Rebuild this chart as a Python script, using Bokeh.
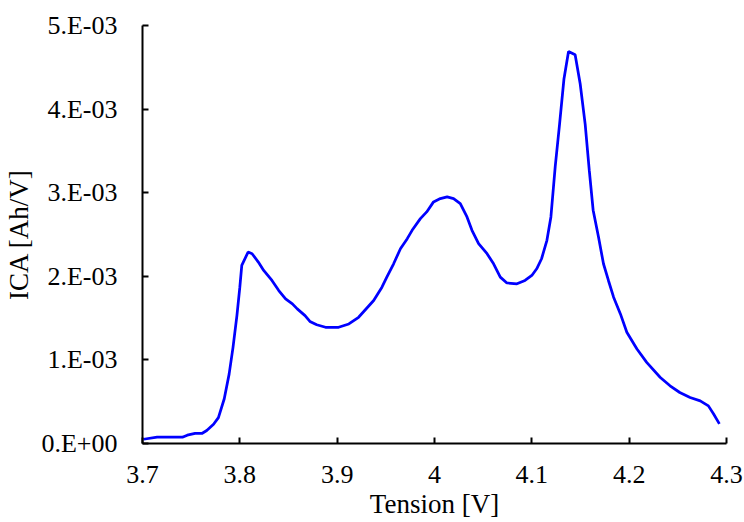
from bokeh.plotting import figure
from bokeh.models import Range1d, FixedTicker
from bokeh.embed import file_html
from bokeh.resources import INLINE

# Tension [V]
voltage = [3.701, 3.715, 3.741, 3.746, 3.754, 3.761, 3.766, 3.773, 3.778, 3.784,
           3.789, 3.793, 3.797, 3.800, 3.802, 3.8085, 3.8126, 3.819, 3.8245, 3.833,
           3.840, 3.847, 3.854, 3.859, 3.867, 3.872, 3.879, 3.888, 3.9015, 3.912,
           3.922, 3.9375, 3.946, 3.951, 3.958, 3.965, 3.972, 3.977, 3.9855, 3.992,
           3.999, 4.006, 4.013, 4.0196, 4.0265, 4.0334, 4.0385, 4.0453, 4.054, 4.0607,
           4.0676, 4.0744, 4.0847, 4.093, 4.100, 4.105, 4.110, 4.1155, 4.1196, 4.124,
           4.1285, 4.133, 4.1377, 4.1445, 4.1497, 4.1548, 4.159, 4.163, 4.1685, 4.1736,
           4.1787, 4.184, 4.191, 4.1976, 4.208, 4.218, 4.232, 4.242, 4.252, 4.2626,
           4.273, 4.2814, 4.2866, 4.2927]

# ICA in units of 1e-3 Ah/V
ica_e3 = [0.051, 0.075, 0.075, 0.10, 0.12, 0.12, 0.155, 0.23, 0.31, 0.535,
          0.83, 1.15, 1.53, 1.87, 2.13, 2.29, 2.27, 2.17, 2.07, 1.95,
          1.83, 1.73, 1.67, 1.61, 1.53, 1.46, 1.42, 1.39, 1.39, 1.43,
          1.51, 1.71, 1.87, 1.99, 2.15, 2.33, 2.45, 2.55, 2.69, 2.77,
          2.89, 2.93, 2.95, 2.93, 2.87, 2.71, 2.55, 2.39, 2.27, 2.15,
          1.99, 1.92, 1.91, 1.95, 2.01, 2.09, 2.21, 2.43, 2.71, 3.31,
          3.82, 4.36, 4.69, 4.65, 4.30, 3.82, 3.27, 2.79, 2.47, 2.15,
          1.95, 1.75, 1.55, 1.33, 1.13, 0.97, 0.79, 0.69, 0.61, 0.55,
          0.51, 0.45, 0.355, 0.235]

x_ticks = [3.7, 3.8, 3.9, 4.0, 4.1, 4.2, 4.3]
x_labels = ["3.7", "3.8", "3.9", "4", "4.1", "4.2", "4.3"]
y_ticks = [0, 1, 2, 3, 4, 5]
y_labels = ["0.E+00", "1.E-03", "2.E-03", "3.E-03", "4.E-03", "5.E-03"]
x_title = "Tension [V]"
y_title = "ICA [Ah/V]"

FONT = "Liberation Serif"

p = figure(width=744, height=522, output_backend="svg", toolbar_location=None,
           x_range=Range1d(3.7, 4.3), y_range=Range1d(0, 5),
           min_border_left=142, min_border_right=18, min_border_top=25,
           min_border_bottom=79)
p.outline_line_color = None
p.grid.visible = False
p.background_fill_color = "white"
p.border_fill_color = "white"

p.line(voltage, ica_e3, line_color="#0000FF", line_width=2.75)

for ax, ticks, labels in ((p.xaxis[0], x_ticks, x_labels), (p.yaxis[0], y_ticks, y_labels)):
    ax.ticker = FixedTicker(ticks=ticks)
    ax.major_label_overrides = {t: l for t, l in zip(ticks, labels)}
    ax.minor_tick_line_color = None
    ax.major_tick_in = 6
    ax.major_tick_out = 0
    ax.major_tick_line_width = 2
    ax.axis_line_width = 2
    ax.axis_line_color = "black"
    ax.major_tick_line_color = "black"
    ax.major_label_text_font = FONT
    ax.major_label_text_font_size = "26px"
    ax.major_label_text_color = "black"
    ax.axis_label_text_font = FONT
    ax.axis_label_text_font_size = "27px"
    ax.axis_label_text_font_style = "normal"
    ax.axis_label_text_color = "black"

p.xaxis.axis_label = x_title
p.yaxis.axis_label = y_title
p.xaxis.major_label_standoff = 22
p.xaxis.axis_label_standoff = 3
p.yaxis.major_label_standoff = 25
p.yaxis.axis_label_standoff = 4

open("out.html", "w").write(file_html(p, INLINE))
